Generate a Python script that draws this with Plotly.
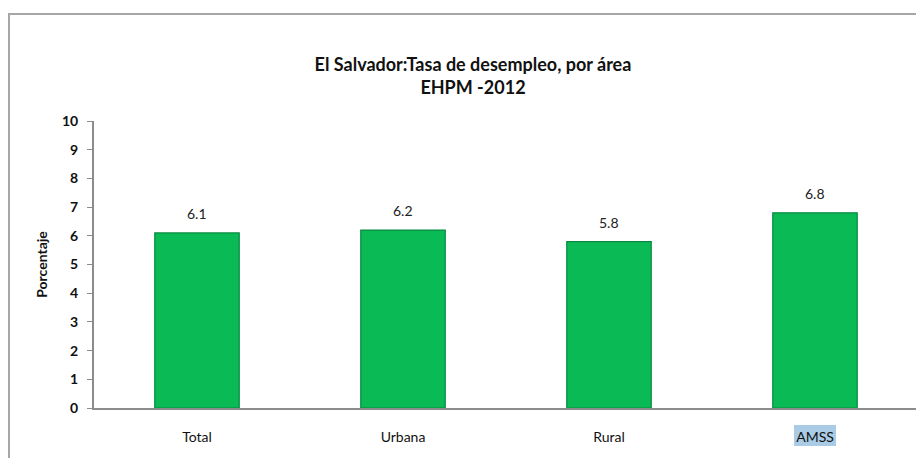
import plotly.graph_objects as go

categories = ["Total", "Urbana", "Rural", "AMSS"]
values = [6.1, 6.2, 5.8, 6.8]
value_labels = ["6.1", "6.2", "5.8", "6.8"]
y_ticks = [0, 1, 2, 3, 4, 5, 6, 7, 8, 9, 10]

W, H = 924, 458
OFF = 8  # page body margin
L, T = 94 - OFF, 121 - OFF
R = W - (918 - OFF)
B = H - (408 - OFF)
pw, ph = W - L - R, H - T - B

def px_x(p):
    return (p - OFF - L) / pw

def px_y(p):
    return (H - B - (p - OFF)) / ph

fig = go.Figure()
fig.add_trace(go.Bar(
    x=list(range(len(categories))), y=values,
    marker=dict(color="#0ABA55", line=dict(color="#078a40", width=1.2)),
    width=0.41, hoverinfo="skip",
))

for i, (v, t) in enumerate(zip(values, value_labels)):
    fig.add_annotation(x=i, y=v, text=t, showarrow=False, yanchor="bottom",
                       yshift=9, font=dict(size=14, color="#222222"))

fig.update_layout(
    width=W, height=H,
    margin=dict(l=L, r=R, t=T, b=B),
    paper_bgcolor="white", plot_bgcolor="white",
    showlegend=False,
    font=dict(family="Lato, Open Sans, sans-serif", color="#111111"),
    title=dict(
        text="<b>El Salvador:Tasa de desempleo, por área<br>EHPM -2012</b>",
        x=(473 - OFF) / W, xanchor="center", y=1 - 63 / H, yanchor="top",
        font=dict(size=18, color="#111111"),
    ),
    xaxis=dict(
        tickmode="array", tickvals=list(range(len(categories))), ticktext=categories,
        range=[-0.5, len(categories) - 0.5], automargin=False,
        showline=True, linecolor="#8c8c8c", linewidth=2,
        ticks="", showgrid=False, zeroline=False,
        tickfont=dict(size=14, color="#111111"), ticklabelstandoff=15,
    ),
    yaxis=dict(
        range=[0, 10], tickmode="array", tickvals=y_ticks, automargin=False,
        showline=True, linecolor="#8c8c8c", linewidth=2,
        ticks="outside", ticklen=5, tickcolor="#8c8c8c", tickwidth=1,
        showgrid=False, zeroline=False,
        tickfont=dict(size=14, color="#111111", weight="bold"), ticklabelstandoff=6,
        title=dict(text="<b>Porcentaje</b>", font=dict(size=14, color="#111111"), standoff=11),
    ),
)

# highlight behind AMSS tick label
fig.add_shape(type="rect", xref="x", yref="paper",
              x0=3 - 21 / 206, x1=3 + 21 / 206, y0=px_y(446), y1=px_y(425),
              fillcolor="#a9cbe6", line=dict(width=0), layer="below")

# outer frame
fig.add_shape(type="rect", xref="paper", yref="paper",
              x0=px_x(OFF + 1), x1=px_x(980), y0=px_y(490), y1=px_y(14),
              fillcolor="rgba(0,0,0,0)", line=dict(color="#a6a6a6", width=2), layer="below")

fig.write_html("out.html")
